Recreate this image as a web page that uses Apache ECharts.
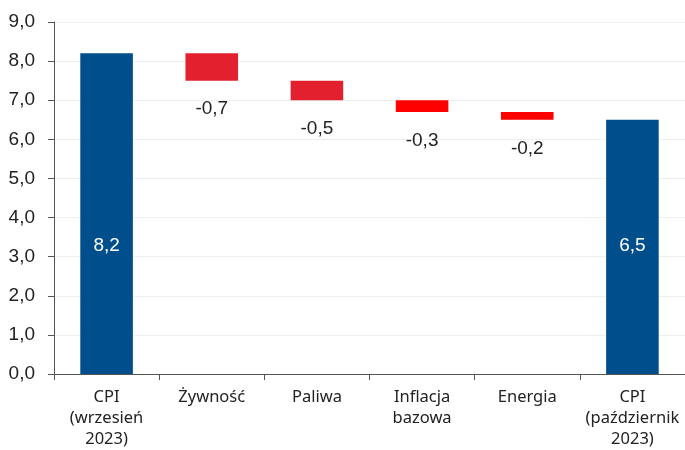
<!DOCTYPE html>
<html><head><meta charset="utf-8">
<script src="https://cdn.jsdelivr.net/npm/echarts@6/dist/echarts.min.js"></script>
<style>html,body{margin:0;padding:0;background:#fff}#c{width:685px;height:450px}</style>
</head><body><div id="c"></div>
<script>
const categories = ['CPI\n(wrzesień\n2023)', 'Żywność', 'Paliwa', 'Inflacja\nbazowa', 'Energia', 'CPI\n(październik\n2023)'];
const startValue = 8.2;
const changes = [-0.7, -0.5, -0.3, -0.2];
const endValue = 6.5;
const yTicks = { min: 0, max: 9, interval: 1 };

const fmt = v => v.toFixed(1).replace('.', ',');
const BLUE = '#004f8c';
const changeColors = ['#e3202d', '#e3202d', '#ff0000', '#ff0000'];

// Build waterfall: transparent base + visible segment
const base = [0];
const seg = [{ value: startValue, itemStyle: { color: BLUE }, label: { show: true, position: 'insideBottom', distance: 119, color: '#fff', formatter: () => fmt(startValue) } }];
let level = startValue;
changes.forEach((c, i) => {
  const next = level + c;
  base.push(Math.min(level, next));
  seg.push({ value: Math.abs(c), itemStyle: { color: changeColors[i] }, label: { show: true, position: 'bottom', distance: 19, color: '#222', formatter: () => fmt(c) } });
  level = next;
});
base.push(0);
seg.push({ value: endValue, itemStyle: { color: BLUE }, label: { show: true, position: 'insideBottom', distance: 119, color: '#fff', formatter: () => fmt(endValue) } });

const chart = echarts.init(document.getElementById('c'));
chart.setOption({
  animation: false,
  grid: { left: 54, right: 0, top: 22, bottom: 75 },
  xAxis: {
    type: 'category', data: categories,
    axisLine: { lineStyle: { color: '#555', width: 1 } },
    axisTick: { show: true, length: 6, lineStyle: { color: '#555' } },
    axisLabel: { color: '#222', fontSize: 16.5, lineHeight: 21, fontFamily: 'Noto Sans', margin: 13, interval: 0 }
  },
  yAxis: {
    type: 'value', min: yTicks.min, max: yTicks.max, interval: yTicks.interval,
    axisLine: { show: true, lineStyle: { color: '#555', width: 1 } },
    axisTick: { show: true, length: 6, lineStyle: { color: '#555' } },
    axisLabel: { color: '#222', fontSize: 19, fontFamily: 'Liberation Sans', margin: 19, formatter: v => fmt(v) },
    splitLine: { lineStyle: { color: '#efefef', width: 1 } }
  },
  series: [
    { type: 'bar', stack: 'w', data: base, barWidth: '50%', itemStyle: { color: 'transparent' }, silent: true },
    { type: 'bar', stack: 'w', data: seg, barWidth: '50%', label: { fontSize: 19, fontFamily: 'Liberation Sans' } }
  ]
});
</script></body></html>
